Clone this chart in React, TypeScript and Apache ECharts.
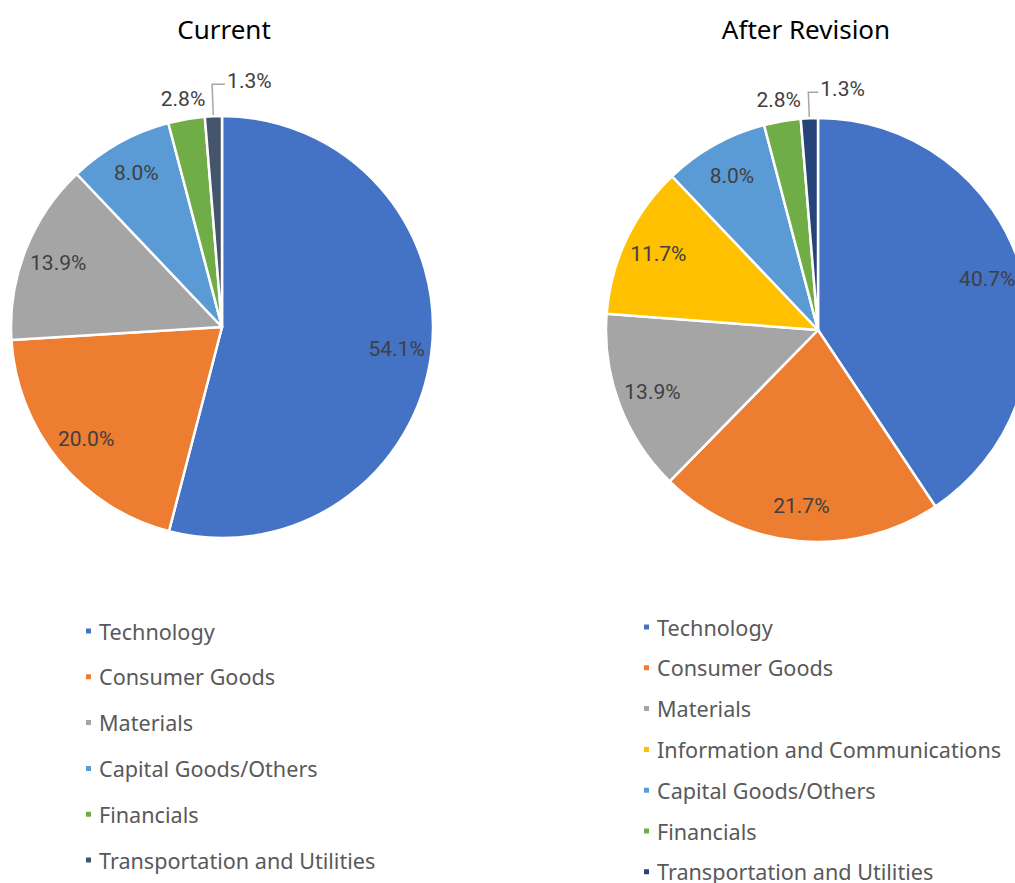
import React, { useEffect, useRef } from "react";
import * as echarts from "echarts";

const currentTitle = "Current";
const revisedTitle = "After Revision";

const currentCategories = [
  "Technology",
  "Consumer Goods",
  "Materials",
  "Capital Goods/Others",
  "Financials",
  "Transportation and Utilities",
];
const currentValues = [54.1, 20.0, 13.9, 8.0, 2.8, 1.3];

const revisedCategories = [
  "Technology",
  "Consumer Goods",
  "Materials",
  "Information and Communications",
  "Capital Goods/Others",
  "Financials",
  "Transportation and Utilities",
];
const revisedValues = [40.7, 21.7, 13.9, 11.7, 8.0, 2.8, 1.3];

const baseColors: Record<string, string> = {
  Technology: "#4472C4",
  "Consumer Goods": "#ED7D31",
  Materials: "#A5A5A5",
  "Information and Communications": "#FFC000",
  "Capital Goods/Others": "#5B9BD5",
  Financials: "#70AD47",
};
const currentTransportColor = "#44546A";
const revisedTransportColor = "#264478";

const OUTSIDE_NAMES = ["Financials", "Transportation and Utilities"];
const LABEL_FONT = "Roboto, 'Liberation Sans', sans-serif";
const TEXT_FONT = "'Noto Sans', 'Open Sans', sans-serif";

function colorOf(name: string, transport: string) {
  return name === "Transportation and Utilities" ? transport : baseColors[name];
}

function makeLabelLayout(names: string[]) {
  return (params: any) => {
    const name = names[params.dataIndex];
    const pts = params.labelLinePoints;
    if (!pts || pts.length < 2) return {};
    if (name === "Financials") {
      return { x: pts[1][0], y: pts[1][1], align: "center", verticalAlign: "middle" };
    }
    if (name === "Transportation and Utilities" && pts.length >= 3) {
      const p0 = pts[0];
      const p1 = pts[1];
      const p2 = pts[2];
      const len2 = Math.abs(p2[0] - p1[0]);
      const end = [p1[0] + len2, p1[1]];
      return {
        x: end[0] + 2,
        y: end[1] - 3,
        align: "left",
        verticalAlign: "middle",
        labelLinePoints: [p0, p1, end],
      };
    }
    return {};
  };
}

function buildSeries(
  names: string[],
  values: number[],
  transport: string,
  center: number[],
  radius: number,
  finLen: number,
  trLen: number,
  trLen2: number
) {
  const main = {
    type: "pie",
    center,
    radius,
    startAngle: 90,
    clockwise: true,
    silent: true,
    label: { show: false },
    labelLine: { show: false },
    itemStyle: { borderColor: "#ffffff", borderWidth: 2.5 },
    data: names.map((n, i) => ({
      name: n,
      value: values[i],
      itemStyle: { color: colorOf(n, transport) },
    })),
  };
  const overlay = {
    type: "pie",
    center,
    radius: [radius * 0.64, radius],
    startAngle: 90,
    clockwise: true,
    silent: true,
    avoidLabelOverlap: false,
    itemStyle: { color: "rgba(0,0,0,0)", borderWidth: 0 },
    label: {
      show: true,
      position: "inside",
      color: "#404040",
      fontSize: 21,
      fontFamily: LABEL_FONT,
      textBorderWidth: 0,
      formatter: (p: any) => Number(p.value).toFixed(1) + "%",
    },
    labelLayout: makeLabelLayout(names),
    data: names.map((n, i) => {
      const item: any = {
        name: n,
        value: values[i],
        itemStyle: { color: "rgba(0,0,0,0)" },
      };
      if (OUTSIDE_NAMES.indexOf(n) >= 0) {
        const isFin = n === "Financials";
        item.label = { position: "outside", color: "#404040" };
        item.labelLine = {
          show: true,
          length: isFin ? finLen : trLen,
          length2: isFin ? 0 : trLen2,
          smooth: false,
          lineStyle: isFin
            ? { opacity: 0, width: 0 }
            : { color: "#A6A6A6", width: 1.5, opacity: 1 },
        };
      }
      return item;
    }),
  };
  return [main, overlay];
}

export default function App() {
  const ref = useRef<HTMLDivElement>(null);
  useEffect(() => {
    if (!ref.current) return;
    const chart = echarts.init(ref.current, undefined, { renderer: "svg" });
    const legendText = { fontSize: 21.6, color: "#595959", fontFamily: TEXT_FONT, lineHeight: 22, padding: [0, 0, 0, 2] };
    const option: any = {
      animation: false,
      backgroundColor: "#ffffff",
      graphic: [
        {
          type: "text",
          x: 224,
          y: 29,
          style: {
            text: currentTitle,
            fontSize: 26,
            fontFamily: TEXT_FONT,
            fill: "#000000",
            textAlign: "center",
            textVerticalAlign: "middle",
          },
        },
        {
          type: "text",
          x: 806,
          y: 29,
          style: {
            text: revisedTitle,
            fontSize: 26,
            fontFamily: TEXT_FONT,
            fill: "#000000",
            textAlign: "center",
            textVerticalAlign: "middle",
          },
        },
      ],
      legend: [
        {
          orient: "vertical",
          left: 84,
          top: 620,
          padding: 0,
          itemWidth: 7,
          itemHeight: 7,
          itemGap: 23.8,
          icon: "rect",
          selectedMode: false,
          textStyle: legendText,
          data: currentCategories.map((n) => ({
            name: n,
            itemStyle: { color: colorOf(n, currentTransportColor) },
          })),
        },
        {
          orient: "vertical",
          left: 642,
          top: 616,
          padding: 0,
          itemWidth: 7,
          itemHeight: 7,
          itemGap: 18.8,
          icon: "rect",
          selectedMode: false,
          textStyle: legendText,
          data: revisedCategories.map((n) => ({
            name: n,
            itemStyle: { color: colorOf(n, revisedTransportColor) },
          })),
        },
      ],
      series: [
        ...buildSeries(currentCategories, currentValues, currentTransportColor, [222, 327], 211, 20, 32, 13),
        ...buildSeries(revisedCategories, revisedValues, revisedTransportColor, [818, 330], 212, 21, 26, 10),
      ],
    };
    chart.setOption(option);
    return () => chart.dispose();
  }, []);
  return (
    <div
      ref={ref}
      style={{ position: "absolute", left: 0, top: 0, width: 1015, height: 883 }}
    />
  );
}
